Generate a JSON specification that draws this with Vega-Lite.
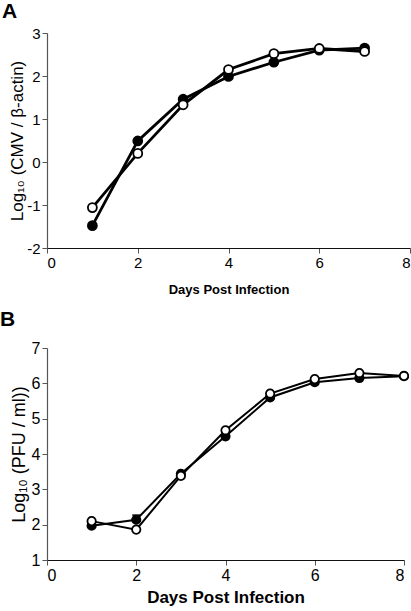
{
  "$schema": "https://vega.github.io/schema/vega-lite/v6.json",
  "padding": {"left": 0, "top": 1, "right": 5, "bottom": 4},
  "spacing": 13,
  "config": {
    "view": {"stroke": null},
    "font": "Liberation Sans",
    "axis": {"grid": false, "domainColor": "#555", "tickColor": "#555", "labelColor": "#000", "titleColor": "#000", "labelFont": "Liberation Sans", "titleFont": "Liberation Sans", "domainWidth": 1.2, "tickSize": 5, "labelPadding": 2},
    "axisX": {"domainColor": "#111"}
  },
  "datasets": {
    "dA": [
      {"day": 1, "series": "filled", "value": -1.48},
      {"day": 2, "series": "filled", "value": 0.49},
      {"day": 3, "series": "filled", "value": 1.46},
      {"day": 4, "series": "filled", "value": 1.99},
      {"day": 5, "series": "filled", "value": 2.32},
      {"day": 6, "series": "filled", "value": 2.6},
      {"day": 7, "series": "filled", "value": 2.65},
      {"day": 1, "series": "open", "value": -1.06},
      {"day": 2, "series": "open", "value": 0.2},
      {"day": 3, "series": "open", "value": 1.33},
      {"day": 4, "series": "open", "value": 2.15},
      {"day": 5, "series": "open", "value": 2.52},
      {"day": 6, "series": "open", "value": 2.64},
      {"day": 7, "series": "open", "value": 2.57}
    ],
    "dB": [
      {"day": 1, "series": "filled", "value": 1.97},
      {"day": 2, "series": "filled", "value": 2.14, "lo": 2.14, "hi": 2.27},
      {"day": 3, "series": "filled", "value": 3.44, "lo": 3.44, "hi": 3.5},
      {"day": 4, "series": "filled", "value": 4.5},
      {"day": 5, "series": "filled", "value": 5.6},
      {"day": 6, "series": "filled", "value": 6.03},
      {"day": 7, "series": "filled", "value": 6.15},
      {"day": 8, "series": "filled", "value": 6.2, "lo": 6.2, "hi": 6.28},
      {"day": 1, "series": "open", "value": 2.1, "lo": 2.1, "hi": 2.13},
      {"day": 2, "series": "open", "value": 1.86},
      {"day": 3, "series": "open", "value": 3.38},
      {"day": 4, "series": "open", "value": 4.67},
      {"day": 5, "series": "open", "value": 5.71},
      {"day": 6, "series": "open", "value": 6.12},
      {"day": 7, "series": "open", "value": 6.29, "lo": 6.29, "hi": 6.33},
      {"day": 8, "series": "open", "value": 6.21}
    ]
  },
  "vconcat": [
    {
      "width": 363,
      "height": 215,
      "title": {"text": "A", "anchor": "start", "frame": "group", "dx": -45, "fontSize": 21, "fontWeight": "bold", "font": "Liberation Sans", "offset": 4, "baseline": "top"},
      "data": {"name": "dA"},
      "encoding": {
        "x": {"field": "day", "type": "quantitative", "scale": {"domain": [0, 8], "nice": false}, "axis": {"values": [0, 2, 4, 6, 8], "title": "Days Post Infection", "titleFontSize": 13, "titleFontWeight": "bold", "labelFontSize": 15, "titlePadding": 13}},
        "y": {"field": "value", "type": "quantitative", "scale": {"domain": [-2, 3], "nice": false}, "axis": {"values": [-2, -1, 0, 1, 2, 3], "labelExpr": "replace(datum.label, '−', '-')", "title": "Log₁₀ (CMV / β-actin)", "titleFontSize": 17, "titleFontWeight": "normal", "labelFontSize": 15, "titlePadding": 0}}
      },
      "layer": [
        {"mark": {"type": "line", "strokeWidth": 2.8, "color": "black"}, "encoding": {"detail": {"field": "series"}}},
        {"mark": {"type": "point", "filled": true, "size": 80, "stroke": "black", "strokeWidth": 1.8, "opacity": 1}, "encoding": {"fill": {"field": "series", "type": "nominal", "scale": {"domain": ["filled", "open"], "range": ["black", "white"]}, "legend": null}}}
      ]
    },
    {
      "width": 357,
      "height": 212,
      "title": {"text": "B", "anchor": "start", "frame": "group", "dx": -47, "fontSize": 21, "fontWeight": "bold", "font": "Liberation Sans", "offset": 10},
      "data": {"name": "dB"},
      "encoding": {
        "x": {"field": "day", "type": "quantitative", "scale": {"domain": [0, 8], "nice": false}, "axis": {"values": [0, 2, 4, 6, 8], "title": "Days Post Infection", "titleFontSize": 17, "titleFontWeight": "bold", "labelFontSize": 16, "titlePadding": 6}},
        "y": {"field": "value", "type": "quantitative", "scale": {"domain": [1, 7], "nice": false}, "axis": {"values": [1, 2, 3, 4, 5, 6, 7], "title": "Log₁₀ (PFU / ml))", "titleFontSize": 18, "titleFontWeight": "normal", "labelFontSize": 16, "titlePadding": 3}}
      },
      "layer": [
        {"transform": [{"filter": "datum.hi != null"}], "mark": {"type": "rule", "color": "black", "strokeWidth": 1.5}, "encoding": {"y": {"field": "lo", "type": "quantitative"}, "y2": {"field": "hi"}}},
        {"transform": [{"filter": "datum.hi != null"}], "mark": {"type": "tick", "orient": "horizontal", "color": "black", "thickness": 1.5, "size": 8, "opacity": 1}, "encoding": {"y": {"field": "hi", "type": "quantitative"}}},
        {"mark": {"type": "line", "strokeWidth": 2, "color": "black"}, "encoding": {"detail": {"field": "series"}}},
        {"mark": {"type": "point", "filled": true, "size": 70, "stroke": "black", "strokeWidth": 1.8, "opacity": 1}, "encoding": {"fill": {"field": "series", "type": "nominal", "scale": {"domain": ["filled", "open"], "range": ["black", "white"]}, "legend": null}}}
      ]
    }
  ]
}
